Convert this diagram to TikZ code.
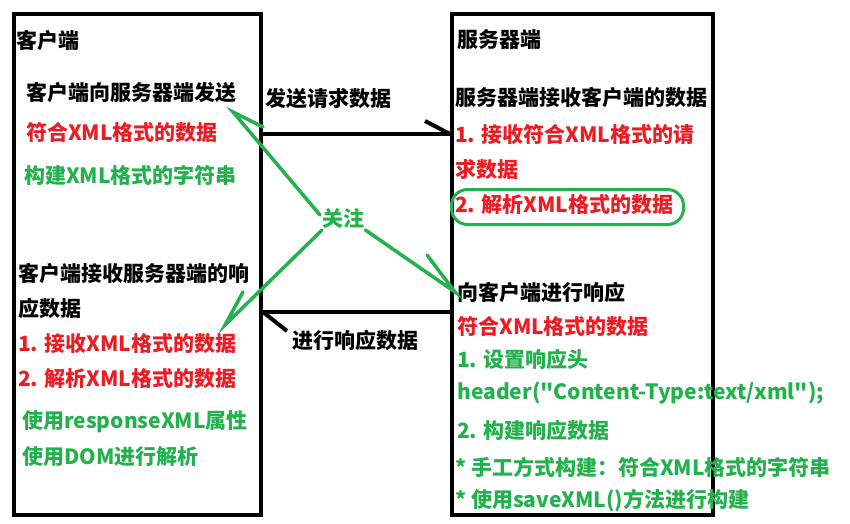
\documentclass[tikz,border=0pt]{standalone}
\usepackage{fontspec}
\setmainfont{Noto Sans CJK SC}
\newfontfamily\qfont{Noto Sans CJK SC}[Ligatures=TeXOff]
\definecolor{pred}{HTML}{ED1C24}
\definecolor{pgreen}{HTML}{22B14C}
\begin{document}
\begin{tikzpicture}[x=1pt,y=-1pt,
  txt/.style={anchor=west,inner sep=0pt,font=\fontsize{21}{21}\selectfont\bfseries},
  btxt/.style={txt,text=black},
  rtxt/.style={txt,text=pred},
  gtxt/.style={txt,text=pgreen},
  box/.style={draw=black,line width=4pt,inner sep=0pt,anchor=north west},
  barrow/.style={draw=black,line width=4pt},
  garrow/.style={draw=pgreen,line width=3.5pt,line cap=round},
  hl/.style={draw=pgreen,line width=3pt,rounded corners=16pt,inner sep=0pt}
]
\useasboundingbox (0,0) rectangle (850,523);
\fill[white] (0,0) rectangle (850,523);

% boxes
\node[box,minimum width=247.5pt,minimum height=500.5pt] (client) at (11.5,12) {};
\node[box,minimum width=260.5pt,minimum height=500.5pt] (server) at (450,12) {};

% left texts
\node[btxt] (c0) at (16,40) {客户端};
\node[btxt] (c1) at (26,92) {客户端向服务器端发送};
\node[rtxt] (c2) at (26,133) {符合XML格式的数据};
\node[gtxt] (c3) at (24,175) {构建XML格式的字符串};
\node[btxt] (c4) at (18,273) {客户端接收服务器端的响};
\node[btxt] (c5) at (18,308) {应数据};
\node[rtxt] (c6) at (18,344) {1. 接收XML格式的数据};
\node[rtxt] (c7) at (18,379) {2. 解析XML格式的数据};
\node[gtxt] (c8) at (22,422) {使用responseXML属性};
\node[gtxt] (c9) at (22,457) {使用DOM进行解析};

% middle texts
\node[btxt] (req) at (265,99) {发送请求数据};
\node[gtxt] (focus) at (322,218) {关注};
\node[btxt] (resp) at (292,340) {进行响应数据};

% right texts
\node[btxt] (s0) at (457,40) {服务器端};
\node[btxt] (s1) at (455,97) {服务器端接收客户端的数据};
\node[rtxt] (s2) at (455,135) {1. 接收符合XML格式的请};
\node[rtxt] (s3) at (455,170) {求数据};
\node[rtxt] (s4) at (455,205) {2. 解析XML格式的数据};
\node[hl,minimum width=232pt,minimum height=35pt] (hlbox) at (567.5,207) {};
\node[btxt] (s5) at (457,292) {向客户端进行响应};
\node[rtxt] (s6) at (457,327) {符合XML格式的数据};
\node[gtxt] (s7) at (457,359) {1. 设置响应头};
\node[gtxt] (s8) at (457,393) {\qfont header("Content-Type:text/xml");};
\node[gtxt] (s9) at (457,430) {2. 构建响应数据};
\node[gtxt] (s10) at (455,467) {* 手工方式构建：符合XML格式的字符串};
\node[gtxt] (s11) at (455,500) {* 使用saveXML()方法进行构建};

% black arrows
\coordinate (t1) at (server.west |- 0,134);
\draw[barrow] (client.east |- 0,134) -- (t1);
\draw[barrow] (t1) -- ++(-25,-13);
\coordinate (t2) at (client.east |- 0,312);
\draw[barrow] (server.west |- 0,312) -- (t2);
\draw[barrow] (t2) -- ++(24,19);

% green arrows
\coordinate (g1) at (233,112);
\coordinate (g2) at (225,325);
\coordinate (g3) at (455,292);
\draw[garrow] (focus.west) ++(-2,-3) -- (g1) -- ++(30,15);
\draw[garrow] (focus.west) ++(0,12) -- (g2) -- ++(18,-33);
\draw[garrow] (focus.east) ++(1,12) -- (g3) -- ++(-28,-37);
\end{tikzpicture}
\end{document}
